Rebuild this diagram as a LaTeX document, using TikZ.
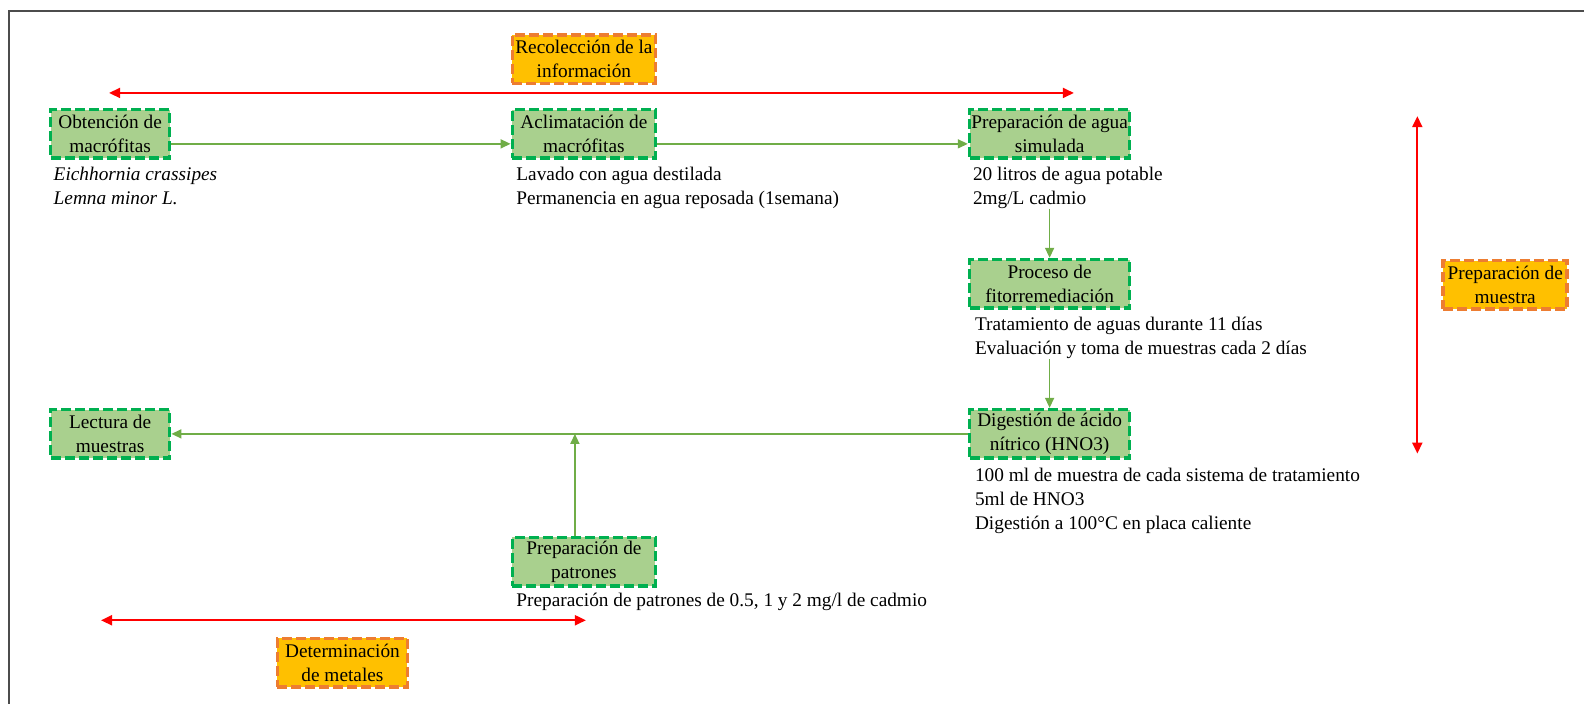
\documentclass[tikz,border=0pt]{standalone}
\usepackage{fontspec}
\setmainfont{Liberation Serif}
\usetikzlibrary{arrows.meta}
\definecolor{gfill}{HTML}{A9D08E}
\definecolor{gline}{HTML}{00B050}
\definecolor{ofill}{HTML}{FFC000}
\definecolor{oline}{HTML}{ED7D31}
\definecolor{garrow}{HTML}{70AD47}
\definecolor{rarrow}{HTML}{FF0000}
\newcommand\mystrut{\rule{0pt}{15pt}}
\begin{document}
\begin{tikzpicture}[x=1.0102pt,y=-1.0102pt,
  font=\fontsize{19.3}{24.2}\selectfont,
  gbox/.style={draw=gline,fill=gfill,line width=3.6pt,dash pattern=on 10pt off 4pt,align=center,minimum height=48.5pt,inner sep=0pt},
  obox/.style={gbox,draw=oline,fill=ofill},
  note/.style={anchor=north west,align=left,inner sep=0pt},
  garr/.style={draw=garrow,line width=1.5pt,-{Triangle[length=10pt,width=9pt]}},
  rarr/.style={draw=rarrow,line width=2pt,{Triangle[length=11pt,width=10pt]}-{Triangle[length=11pt,width=10pt]}}]
\useasboundingbox (0,0) rectangle (1568,696);
% frame
\coordinate (fbl) at (9,700);
\coordinate (ftl) at (9,11);
\coordinate (ftr) at (1570,11);
\draw[line width=1.8pt,black!70] (fbl) -- (ftl) -- (ftr);
% boxes
\node[obox,minimum width=143pt] (rec) at (578,58.5) {Recolección de la\\información};
\node[gbox,minimum width=119pt] (obt) at (109,132.5) {Obtención de\\macrófitas};
\node[gbox,minimum width=143pt] (acl) at (578,132.5) {Aclimatación de\\macrófitas};
\node[gbox,minimum width=160pt] (agua) at (1039,132.5) {Preparación de agua\\simulada};
\node[gbox,minimum width=160pt] (proc) at (1039,281) {Proceso de\\fitorremediación};
\node[gbox,minimum width=160pt] (dig) at (1039,429.5) {Digestión de ácido\\nítrico (HNO3)};
\node[gbox,minimum width=119pt] (lect) at (109,429.5) {Lectura de\\muestras};
\node[gbox,minimum width=143pt] (pat) at (578,556) {Preparación de\\patrones};
\node[obox,minimum width=130pt] (det) at (339,656) {Determinación\\de metales};
\node[obox,minimum width=124pt] (mue) at (1490,282) {Preparación de\\muestra};
% notes
\node[note] (obttxt) at (53,163.2) {\mystrut\textit{Eichhornia crassipes}\\\textit{Lemna minor L.}};
\node[note] (acltxt) at (511,163.2) {\mystrut Lavado con agua destilada\\Permanencia en agua reposada (1semana)};
\node[note] (aguatxt) at (963,163.2) {\mystrut 20 litros de agua potable\\2mg/L cadmio};
\node[note] (proctxt) at (965,312.2) {\mystrut Tratamiento de aguas durante 11 días\\Evaluación y toma de muestras cada 2 días};
\node[note] (digtxt) at (965,461.2) {\mystrut 100 ml de muestra de cada sistema de tratamiento\\5ml de HNO3\\Digestión a 100°C en placa caliente};
\node[note] (pattxt) at (511,585.2) {\mystrut Preparación de patrones de 0.5, 1 y 2 mg/l de cadmio};
% green connectors
\draw[garr] ([yshift=-10pt]obt.east) -- ([yshift=-10pt]acl.west);
\draw[garr] ([yshift=-10pt]acl.east) -- ([yshift=-10pt]agua.west);
\draw[garr] (aguatxt.south -| agua.south) -- (proc.north);
\draw[garr] (proctxt.south -| proc.south) -- (dig.north);
\draw[garr] (dig.west) -- (lect.east);
\coordinate (patup) at ([xshift=-9pt]pat.north);
\draw[garr] (patup) -- (patup |- lect.east);
% red range arrows
\coordinate (r1a) at (108,92);
\coordinate (r1b) at (1063,92);
\draw[rarr] (r1a) -- (r1b);
\coordinate (r2a) at (100,614);
\coordinate (r2b) at (580,614);
\draw[rarr] (r2a) -- (r2b);
\coordinate (r3a) at (1403,115);
\coordinate (r3b) at (1403,449);
\draw[rarr] (r3a) -- (r3b);
\end{tikzpicture}
\end{document}
